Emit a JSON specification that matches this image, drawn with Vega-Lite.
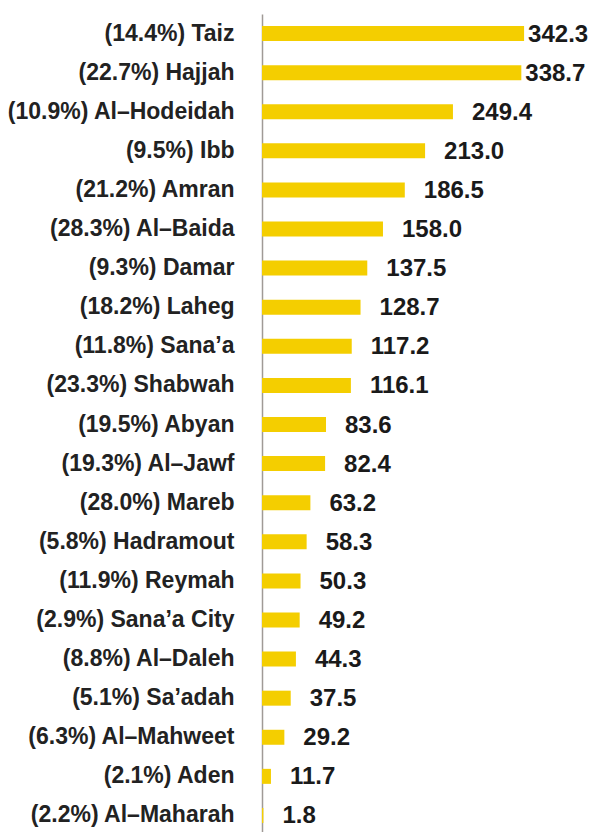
{
  "$schema": "https://vega.github.io/schema/vega-lite/v6.json",
  "autosize": {"type": "none"},
  "padding": {"left": 262, "top": 14, "right": 0, "bottom": 0},
  "width": 330,
  "height": 821,
  "background": "white",
  "config": {"view": {"stroke": null}, "font": "Liberation Sans"},
  "data": {
    "values": [
      {"label": "(14.4%) Taiz", "value": 342.3},
      {"label": "(22.7%) Hajjah", "value": 338.7},
      {"label": "(10.9%) Al–Hodeidah", "value": 249.4},
      {"label": "(9.5%) Ibb", "value": 213.0},
      {"label": "(21.2%) Amran", "value": 186.5},
      {"label": "(28.3%) Al–Baida", "value": 158.0},
      {"label": "(9.3%) Damar", "value": 137.5},
      {"label": "(18.2%) Laheg", "value": 128.7},
      {"label": "(11.8%) Sana’a", "value": 117.2},
      {"label": "(23.3%) Shabwah", "value": 116.1},
      {"label": "(19.5%) Abyan", "value": 83.6},
      {"label": "(19.3%) Al–Jawf", "value": 82.4},
      {"label": "(28.0%) Mareb", "value": 63.2},
      {"label": "(5.8%) Hadramout", "value": 58.3},
      {"label": "(11.9%) Reymah", "value": 50.3},
      {"label": "(2.9%) Sana’a City", "value": 49.2},
      {"label": "(8.8%) Al–Daleh", "value": 44.3},
      {"label": "(5.1%) Sa’adah", "value": 37.5},
      {"label": "(6.3%) Al–Mahweet", "value": 29.2},
      {"label": "(2.1%) Aden", "value": 11.7},
      {"label": "(2.2%) Al–Maharah", "value": 1.8}
    ]
  },
  "encoding": {
    "y": {
      "field": "label",
      "type": "nominal",
      "sort": null,
      "scale": {"paddingInner": 0, "paddingOuter": 0},
      "axis": {
        "title": null,
        "ticks": false,
        "grid": false,
        "domain": true,
        "domainColor": "#a09a96",
        "domainWidth": 1.5,
        "labelPadding": 28,
        "labelFont": "Liberation Sans",
        "labelFontSize": 23,
        "labelFontWeight": "bold",
        "labelColor": "#222222",
        "labelLimit": 400
      }
    },
    "x": {
      "field": "value",
      "type": "quantitative",
      "scale": {"domain": [0, 431], "nice": false, "zero": true},
      "axis": null
    }
  },
  "layer": [
    {
      "mark": {"type": "bar", "color": "#F4CE00", "size": 15}
    },
    {
      "transform": [{"filter": "datum.value < 300"}],
      "mark": {"type": "text", "align": "left", "baseline": "middle", "dx": 19, "dy": 1, "font": "Liberation Sans", "fontSize": 24, "fontWeight": "bold", "color": "#1a1a1a"},
      "encoding": {"text": {"field": "value", "type": "quantitative", "format": ".1f"}}
    },
    {
      "transform": [{"filter": "datum.value >= 300"}],
      "mark": {"type": "text", "align": "left", "baseline": "middle", "dx": 4, "dy": 1, "font": "Liberation Sans", "fontSize": 24, "fontWeight": "bold", "color": "#1a1a1a"},
      "encoding": {"text": {"field": "value", "type": "quantitative", "format": ".1f"}}
    }
  ]
}
